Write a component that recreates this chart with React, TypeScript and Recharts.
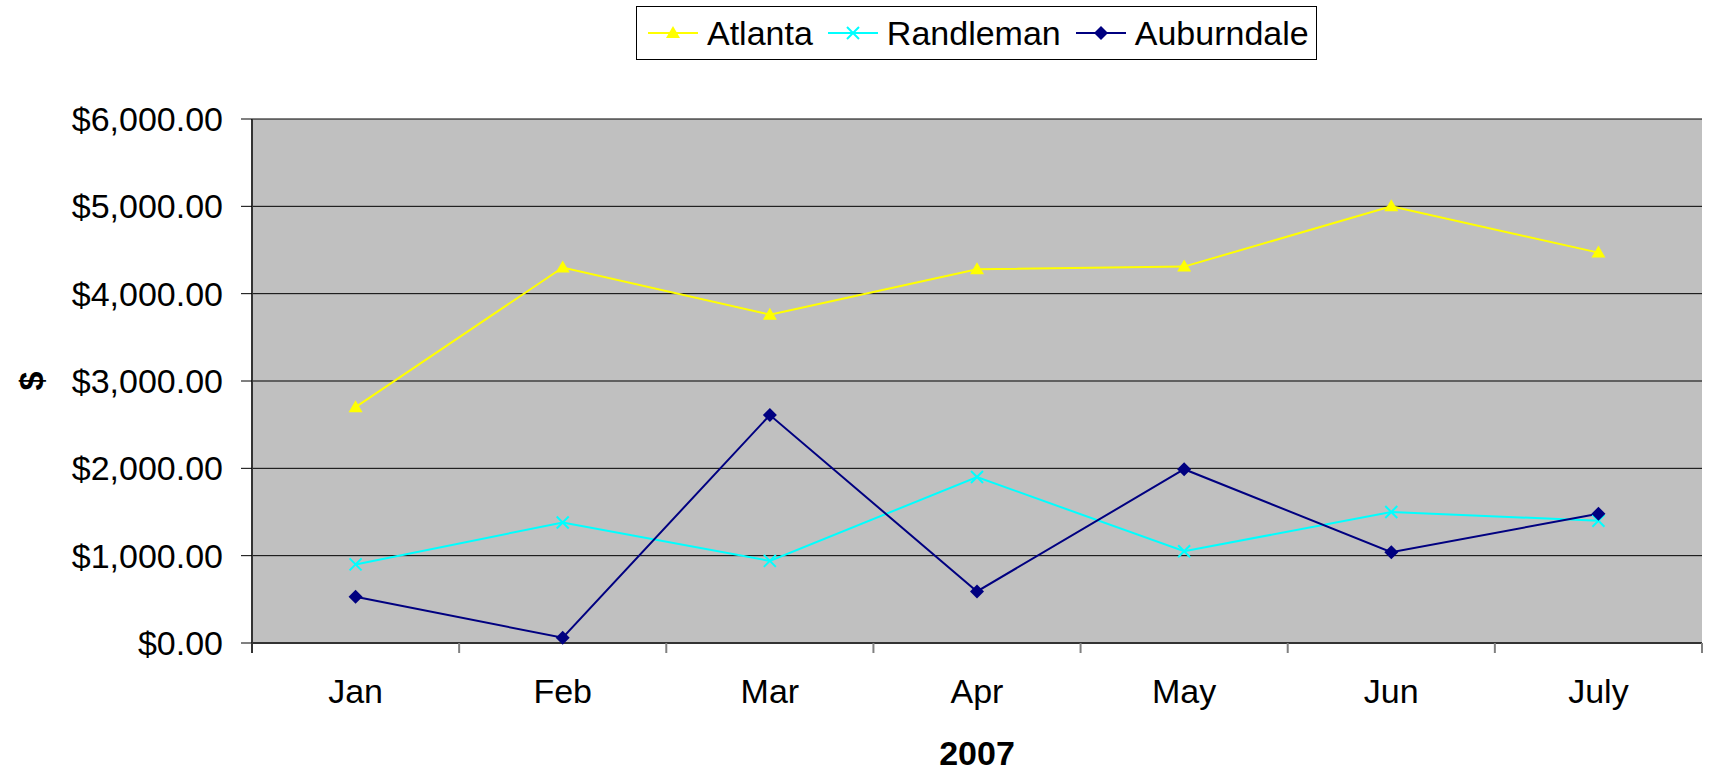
import React from 'react';
import {
  LineChart,
  Line,
  XAxis,
  YAxis,
  CartesianGrid,
  Legend,
} from 'recharts';

const months = ['Jan', 'Feb', 'Mar', 'Apr', 'May', 'Jun', 'July'];
const atlanta = [2700, 4300, 3760, 4280, 4310, 5000, 4470];
const randleman = [900, 1380, 940, 1900, 1050, 1500, 1400];
const auburndale = [530, 60, 2610, 590, 1990, 1040, 1480];
const yTicks = [0, 1000, 2000, 3000, 4000, 5000, 6000];

const data = months.map((m, i) => ({
  month: m,
  Atlanta: atlanta[i],
  Randleman: randleman[i],
  Auburndale: auburndale[i],
}));

const FONT = '"Liberation Sans", Arial, sans-serif';
const YELLOW = '#FFFF00';
const CYAN = '#00FFFF';
const NAVY = '#000080';
const PLOT_W = 1715 - 252 - 13;
const HALF_BAND = PLOT_W / months.length / 2;
const LABEL_GAP = 36;

const money = (v: number) =>
  '$' + v.toLocaleString('en-US', { minimumFractionDigits: 2, maximumFractionDigits: 2 });

const Triangle = ({ cx, cy, color }: any) => (
  <path d={`M${cx},${cy - 7}L${cx - 7},${cy + 5}L${cx + 7},${cy + 5}Z`} fill={color} />
);

const Cross = ({ cx, cy, color }: any) => (
  <path
    d={`M${cx - 6},${cy - 6}L${cx + 6},${cy + 6}M${cx - 6},${cy + 6}L${cx + 6},${cy - 6}`}
    stroke={color}
    strokeWidth={2}
    fill="none"
  />
);

const Diamond = ({ cx, cy, color }: any) => (
  <path d={`M${cx},${cy - 7}L${cx + 7},${cy}L${cx},${cy + 7}L${cx - 7},${cy}Z`} fill={color} />
);

const series = [
  { key: 'Atlanta', color: YELLOW, Marker: Triangle },
  { key: 'Randleman', color: CYAN, Marker: Cross },
  { key: 'Auburndale', color: NAVY, Marker: Diamond },
];

// category label plus a tick mark on the boundary between categories (Excel style)
const MonthTick = ({ x, y, payload, index }: any) => {
  const axisY = y - LABEL_GAP;
  return (
    <g>
      {index === 0 && (
        <line x1={x - HALF_BAND} y1={axisY} x2={x - HALF_BAND} y2={axisY + 10} stroke="#333" strokeWidth={2} />
      )}
      <line x1={x + HALF_BAND} y1={axisY} x2={x + HALF_BAND} y2={axisY + 10} stroke="#808080" strokeWidth={2} />
      <text x={x} y={y} dy="0.71em" textAnchor="middle" fontFamily={FONT} fontSize={34} fill="#000">
        {payload.value}
      </text>
    </g>
  );
};

const renderLegend = () => (
  <div
    style={{
      boxSizing: 'border-box',
      width: 681,
      height: 54,
      border: '1px solid #000',
      background: '#fff',
      display: 'flex',
      alignItems: 'center',
      paddingLeft: 11,
      fontFamily: FONT,
      fontSize: 34,
      color: '#000',
    }}
  >
    {series.map((s) => (
      <div key={s.key} style={{ display: 'flex', alignItems: 'center', marginRight: 15 }}>
        <svg width={50} height={20} style={{ marginRight: 9 }}>
          <line x1={0} y1={10} x2={50} y2={10} stroke={s.color} strokeWidth={2} />
          <s.Marker cx={25} cy={10} color={s.color} />
        </svg>
        <span>{s.key}</span>
      </div>
    ))}
  </div>
);

export default function App() {
  return (
    <div style={{ position: 'absolute', left: 0, top: 0, background: '#fff' }}>
      <LineChart
        width={1715}
        height={771}
        data={data}
        margin={{ top: 119, right: 13, left: 0, bottom: 0 }}
      >
        <CartesianGrid
          vertical={false}
          stroke="#000"
          strokeWidth={1}
          fill="#C0C0C0"
          fillOpacity={1}
        />
        <XAxis
          dataKey="month"
          height={128}
          padding={{ left: HALF_BAND, right: HALF_BAND }}
          axisLine={{ stroke: '#333', strokeWidth: 2 }}
          tickLine={false}
          tickSize={0}
          tickMargin={LABEL_GAP}
          tick={<MonthTick />}
          interval={0}
          label={{
            content: ({ viewBox }: any) => (
              <text
                x={viewBox.x + viewBox.width / 2}
                y={viewBox.y + 122}
                textAnchor="middle"
                fontFamily={FONT}
                fontSize={34}
                fontWeight="bold"
                fill="#000"
              >
                2007
              </text>
            ),
          }}
        />
        <YAxis
          width={252}
          domain={[0, 6000]}
          ticks={yTicks}
          interval={0}
          tickFormatter={money}
          axisLine={{ stroke: '#333', strokeWidth: 2 }}
          tickLine={{ stroke: '#000' }}
          tickSize={11}
          tickMargin={18}
          tick={{ fill: '#000', fontSize: 34, fontFamily: FONT }}
          label={{
            content: ({ viewBox }: any) => (
              <text
                x={31}
                y={viewBox.y + viewBox.height / 2}
                transform={`rotate(-90, 31, ${viewBox.y + viewBox.height / 2})`}
                textAnchor="middle"
                dominantBaseline="central"
                fontFamily={FONT}
                fontSize={34}
                fontWeight="bold"
                fill="#000"
              >
                $
              </text>
            ),
          }}
        />
        <YAxis
          yAxisId="right"
          orientation="right"
          width={0}
          tick={false}
          tickLine={false}
          axisLine={{ stroke: '#808080', strokeWidth: 2 }}
        />
        <Legend
          content={renderLegend}
          layout="horizontal"
          verticalAlign="middle"
          align="center"
          wrapperStyle={{ left: 636, top: 6, width: 681, height: 54 }}
        />
        {series.map((s) => (
          <Line
            key={s.key}
            type="linear"
            dataKey={s.key}
            stroke={s.color}
            strokeWidth={2}
            isAnimationActive={false}
            dot={(p: any) => <s.Marker key={`${s.key}-${p.index}`} cx={p.cx} cy={p.cy} color={s.color} />}
            activeDot={false}
          />
        ))}
      </LineChart>
    </div>
  );
}
